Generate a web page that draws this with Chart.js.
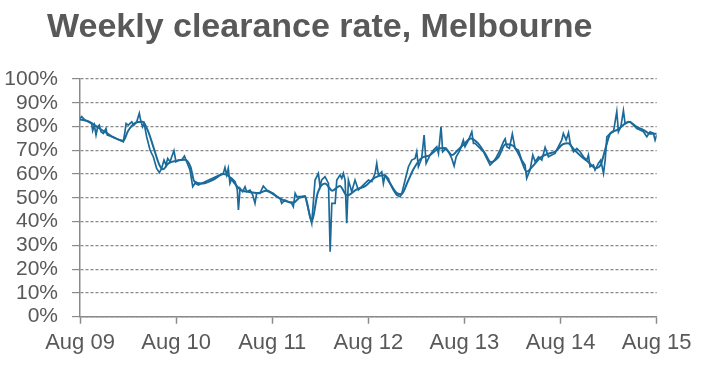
<!DOCTYPE html>
<html>
<head>
<meta charset="utf-8">
<script src="https://cdn.jsdelivr.net/npm/chart.js@4"></script>
<style>
  html, body { margin: 0; padding: 0; background: #ffffff; }
  #wrap { width: 712px; height: 380px; position: relative; }
</style>
</head>
<body>
<div id="wrap"><canvas id="c" width="712" height="380"></canvas></div>
<script>
const chartTitle = "Weekly clearance rate, Melbourne";
const tickLabels = ["Aug 09", "Aug 10", "Aug 11", "Aug 12", "Aug 13", "Aug 14", "Aug 15"];
const yearTicks = [0, 52.18, 104.36, 156.54, 208.71, 260.89, 313.07]; // weeks since Aug 2009

// Weekly clearance rate (%), weeks since Aug 2009
const weeklyWeeks = [0,0.9,2.7,4.5,6.3,6.9,7.8,8.7,9.6,10.5,11.4,12.7,14.1,14.8,16.3,18.1,
  23.5,24.4,25,26.2,28.1,29.3,30.8,32.2,32.9,34,34.8,36.2,38,39.8,41.6,43.1,44.3,45.6,46.7,47.6,48.9,49.8,51,52.1,53.4,55.2,56.7,57.9,59.7,61.2,62.4,64.3,66.1,
  77.8,78.7,79.6,80.5,81.4,82.4,84.2,85.4,86,86.9,88.3,89.6,90.5,92.3,93.8,95,95.9,97.7,99.5,101.4,103.2,105,106.8,108.6,109.5,111.3,113.1,114.9,115.8,116.8,117.7,119.5,122.2,
  125.8,127.6,129.4,130.3,131.2,133,134.9,135.8,136.7,138.5,139.4,141.2,142.1,143,143.9,144.8,145.7,147.5,149.3,151.1,
  152.9,154.7,156.6,158.4,160.2,161.1,162,163.8,164.7,165.6,167.4,168.3,170.1,171.9,173.8,174.7,176.5,178.3,180.1,181.9,
  182.8,183.7,185.5,186.8,187.9,190,191.9,193.7,194.6,196,196.9,198.7,200.5,201.8,203.1,204.2,206.3,208.1,209,210.9,
  212.7,213.6,214.5,217.2,219,220.8,222.6,224.4,226.2,228,229.9,230.8,231.7,233.1,234.7,236.2,238,239.8,241.6,242.5,
  244.3,245.8,247.1,248.9,250.7,252.5,254.3,256.1,257.9,259.7,261.5,262.4,263.9,265.2,266.1,267.9,269.7,271.5,273.3,275.1,
  276,276.9,278.7,279.6,281.4,282.7,284.2,285.1,286,287.8,289.6,291.4,292.3,293.6,295,295.9,298.6,300.5,302.3,304.1,
  305.9,307.7,309.5,311.3,312.2,313.1];
const weeklyRates = [83.4,84.2,82.7,82.0,81.3,78.3,80.6,76.4,79.9,80.6,77.8,77.1,79.2,76.4,76.0,75.5,
  73.6,77.8,81.3,80.6,82.0,80.6,82.0,85.6,82.7,79.9,81.3,75.7,70.1,67.3,62.4,60.6,62.4,65.9,63.8,66.6,65.2,67.3,69.8,65.2,65.9,65.9,67.6,65.2,61.7,54.7,56.1,55.4,56.1,
  60.3,62.8,59.6,62.4,56.1,58.2,56.8,53.3,44.9,54.0,52.6,54.7,52.6,53.3,51.2,47.7,51.9,51.9,55.0,53.3,52.6,51.9,50.5,49.8,47.7,49.1,48.4,47.7,46.3,51.9,50.5,50.5,50.8,
  39.3,57.5,60.3,54.7,57.5,58.9,56.1,27.3,47.7,47.7,57.5,59.6,58.2,60.3,57.5,39.3,57.5,52.6,57.5,53.3,
  54.7,56.1,57.5,56.8,60.3,64.5,59.6,61.0,56.1,59.6,58.2,56.1,53.3,51.2,50.5,51.9,57.5,63.1,65.9,66.6,
  69.4,63.1,66.6,76.4,64.5,68.0,70.1,71.5,68.7,79.9,69.4,70.8,68.7,66.6,63.4,67.3,70.1,74.3,71.5,74.3,
  77.8,72.9,72.9,70.8,69.4,66.6,63.8,65.2,67.3,70.1,73.6,74.8,71.5,70.8,76.9,70.8,70.1,65.9,63.8,58.2,
  61.7,68.0,65.2,67.3,65.9,71.2,67.3,68.0,68.7,71.5,74.3,77.1,74.3,77.4,72.9,69.4,70.8,69.4,67.3,65.9,
  68.0,63.1,63.8,61.7,64.5,65.9,60.3,65.9,75.7,77.1,77.8,86.3,77.8,79.9,86.7,81.3,82.0,80.6,79.2,78.5,
  77.8,75.7,77.8,77.1,74.3,76.4];

// Smoothed trend (%)
const trendWeeks = [0,5,10,15,18.1,23.5,26,30,34,37,40,43,45,48,52,57,60,62,66,72,78,81,84,88,92,97,101,104,108,112,
  116,119,122.2,125.8,129,133,137,141,145,150,155,160,165,168,172,174.5,178,181,185,190,194,198,202,205,209,
  212,216,220,223,227,231,235,239,242.5,246,250,254,258,262,265,268,272,276,280,282.7,285,287.8,291.4,295,298,
  302,306,309.5,313.1];
const trendRates = [83,82,79.5,77,75.5,74,78,81.5,82,78,71,64,62,64.5,65.5,66,63,57,56,57.5,60,59,56,53,52.5,52,53,52,50,48.5,
  48,50,50.5,40,52,56,53,55,51,53.5,55,58.5,59.5,56.5,52,51.5,57,62,66.5,68,70.5,71,68,70,73,
  75,73,68.5,65,67,72.5,72,67,61,63.5,67,68.5,69.5,72.5,73,70.5,67.5,65,62.5,64,70,77,78.5,80.7,82,
  80,78.5,77,77];

const lineColor = '#1b6a9a';
const axisGrey = '#8a8a8a';
const textGrey = '#595959';

function toPoints(xs, ys) {
  const n = Math.min(xs.length, ys.length);
  const out = [];
  for (let i = 0; i < n; i++) out.push({ x: xs[i], y: ys[i] });
  return out;
}

const titlePlugin = {
  id: 'customTitle',
  afterDraw(chart) {
    const ctx = chart.ctx;
    ctx.save();
    ctx.font = 'bold 34px "Liberation Sans", Arial, sans-serif';
    ctx.fillStyle = textGrey;
    ctx.textBaseline = 'alphabetic';
    ctx.textAlign = 'left';
    ctx.fillText(chartTitle, 47, 37);
    ctx.restore();
  }
};

new Chart(document.getElementById('c'), {
  type: 'line',
  data: {
    datasets: [
      {
        label: 'Weekly',
        data: toPoints(weeklyWeeks, weeklyRates),
        borderColor: lineColor,
        borderWidth: 1.7,
        pointRadius: 0,
        tension: 0,
        fill: false
      },
      {
        label: 'Trend',
        data: toPoints(trendWeeks, trendRates),
        borderColor: lineColor,
        borderWidth: 2,
        pointRadius: 0,
        cubicInterpolationMode: 'monotone',
        fill: false
      }
    ]
  },
  options: {
    responsive: false,
    animation: false,
    layout: { padding: { top: 79, right: 55.3, left: 0, bottom: 0 } },
    plugins: { legend: { display: false }, title: { display: false }, tooltip: { enabled: false } },
    scales: {
      x: {
        type: 'linear',
        min: 0,
        max: yearTicks[yearTicks.length - 1],
        afterBuildTicks(scale) { scale.ticks = yearTicks.map(v => ({ value: v })); },
        afterFit(scale) { scale.height = 63.3; },
        ticks: {
          autoSkip: false,
          maxRotation: 0,
          padding: 6,
          color: textGrey,
          font: { family: '"Liberation Sans", Arial, sans-serif', size: 22 },
          callback: (v, i) => tickLabels[i]
        },
        grid: { drawOnChartArea: false, drawTicks: true, tickLength: 7, tickColor: axisGrey, tickWidth: 1.5 },
        border: { display: true, color: axisGrey, width: 1.5 }
      },
      y: {
        min: 0,
        max: 100,
        afterFit(scale) { scale.width = 80; },
        ticks: {
          stepSize: 10,
          autoSkip: false,
          padding: 14,
          color: textGrey,
          font: { family: '"Liberation Sans", Arial, sans-serif', size: 21 },
          callback: v => v + '%'
        },
        grid: { color: axisGrey, lineWidth: 1.2, drawTicks: true, tickLength: 8, tickColor: axisGrey, tickWidth: 1.2, tickBorderDash: [] },
        border: { display: true, color: axisGrey, width: 1.5, dash: [3, 2] }
      }
    }
  },
  plugins: [titlePlugin]
});
</script>
</body>
</html>
